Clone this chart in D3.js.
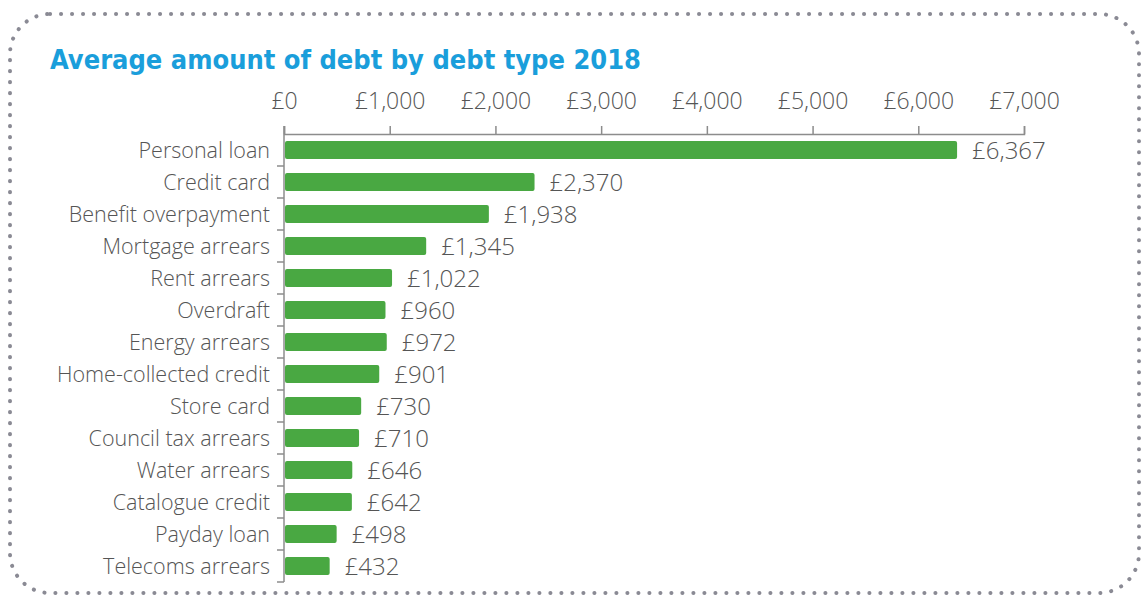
<!DOCTYPE html>
<html>
<head>
<meta charset="utf-8">
<script src="https://cdn.jsdelivr.net/npm/d3@7"></script>
<style>
  html, body { margin: 0; padding: 0; background: #ffffff; }
  svg { display: block; }
</style>
</head>
<body>
<svg id="chart" width="1144" height="596"></svg>
<script>
const title = "Average amount of debt by debt type 2018";
const categories = [
  "Personal loan", "Credit card", "Benefit overpayment", "Mortgage arrears",
  "Rent arrears", "Overdraft", "Energy arrears", "Home-collected credit",
  "Store card", "Council tax arrears", "Water arrears", "Catalogue credit",
  "Payday loan", "Telecoms arrears"
];
const values = [6367, 2370, 1938, 1345, 1022, 960, 972, 901, 730, 710, 646, 642, 498, 432];
const tickValues = [0, 1000, 2000, 3000, 4000, 5000, 6000, 7000];

const svg = d3.select("#chart");

// dotted rounded frame
svg.append("rect")
  .attr("x", 10).attr("y", 14)
  .attr("width", 1129).attr("height", 579)
  .attr("rx", 40).attr("ry", 40)
  .attr("fill", "none")
  .attr("stroke", "#8a8a94")
  .attr("stroke-width", 4)
  .attr("stroke-linecap", "round")
  .attr("stroke-dasharray", "0.1 10.9");

svg.append("text")
  .attr("x", 50).attr("y", 69)
  .attr("font-family", "'DejaVu Sans Condensed', 'DejaVu Sans', sans-serif")
  .attr("font-weight", "bold")
  .attr("font-size", 27)
  .attr("fill", "#1a9edb")
  .attr("textLength", 591)
  .attr("lengthAdjust", "spacingAndGlyphs")
  .text(title);

const x = d3.scaleLinear().domain([0, 7000]).range([284, 1024]);
const yc = d3.scaleBand().domain(categories).range([134, 582]);

const font = "'Open Sans', Lato, sans-serif";
const textColor = "#555555";
const axisColor = "#8c8c8c";
const money = d => "£" + d3.format(",")(d);

// top value axis
const xAxis = svg.append("g")
  .attr("transform", "translate(0,134)")
  .call(d3.axisTop(x).tickValues(tickValues).tickSize(8).tickSizeOuter(8)
    .tickFormat(money).tickPadding(17));
xAxis.select(".domain").attr("stroke", axisColor).attr("stroke-width", 1.5);
xAxis.selectAll(".tick line").attr("stroke", axisColor).attr("stroke-width", 1.5);
xAxis.selectAll(".tick text")
  .attr("font-family", font).attr("font-size", 23).attr("font-weight", 300)
  .attr("fill", textColor);

// category axis with separators between rows
const yg = svg.append("g");
yg.append("line")
  .attr("x1", 284).attr("x2", 284).attr("y1", 126).attr("y2", 582)
  .attr("stroke", axisColor).attr("stroke-width", 1.5);
yg.selectAll("line.sep").data(categories).join("line")
  .attr("class", "sep")
  .attr("x1", 277).attr("x2", 284)
  .attr("y1", d => yc(d) + yc.bandwidth())
  .attr("y2", d => yc(d) + yc.bandwidth())
  .attr("stroke", axisColor).attr("stroke-width", 1.5);

yg.selectAll("text.cat").data(categories).join("text")
  .attr("class", "cat")
  .attr("x", 270)
  .attr("y", d => yc(d) + yc.bandwidth() / 2)
  .attr("dy", "0.35em")
  .attr("text-anchor", "end")
  .attr("font-family", font).attr("font-size", 21.5).attr("font-weight", 300)
  .attr("fill", textColor)
  .text(d => d);

const barH = 18;
svg.selectAll("rect.bar").data(values).join("rect")
  .attr("class", "bar")
  .attr("x", x(0) + 1)
  .attr("y", (d, i) => yc(categories[i]) + yc.bandwidth() / 2 - barH / 2)
  .attr("width", d => x(d) - x(0) - 1)
  .attr("height", barH)
  .attr("rx", 2)
  .attr("fill", "#49a842");

svg.selectAll("text.val").data(values).join("text")
  .attr("class", "val")
  .attr("x", d => x(d) + 15)
  .attr("y", (d, i) => yc(categories[i]) + yc.bandwidth() / 2 + 1)
  .attr("dy", "0.35em")
  .attr("font-family", font).attr("font-size", 24).attr("font-weight", 300)
  .attr("fill", textColor)
  .text(money);
</script>
</body>
</html>
